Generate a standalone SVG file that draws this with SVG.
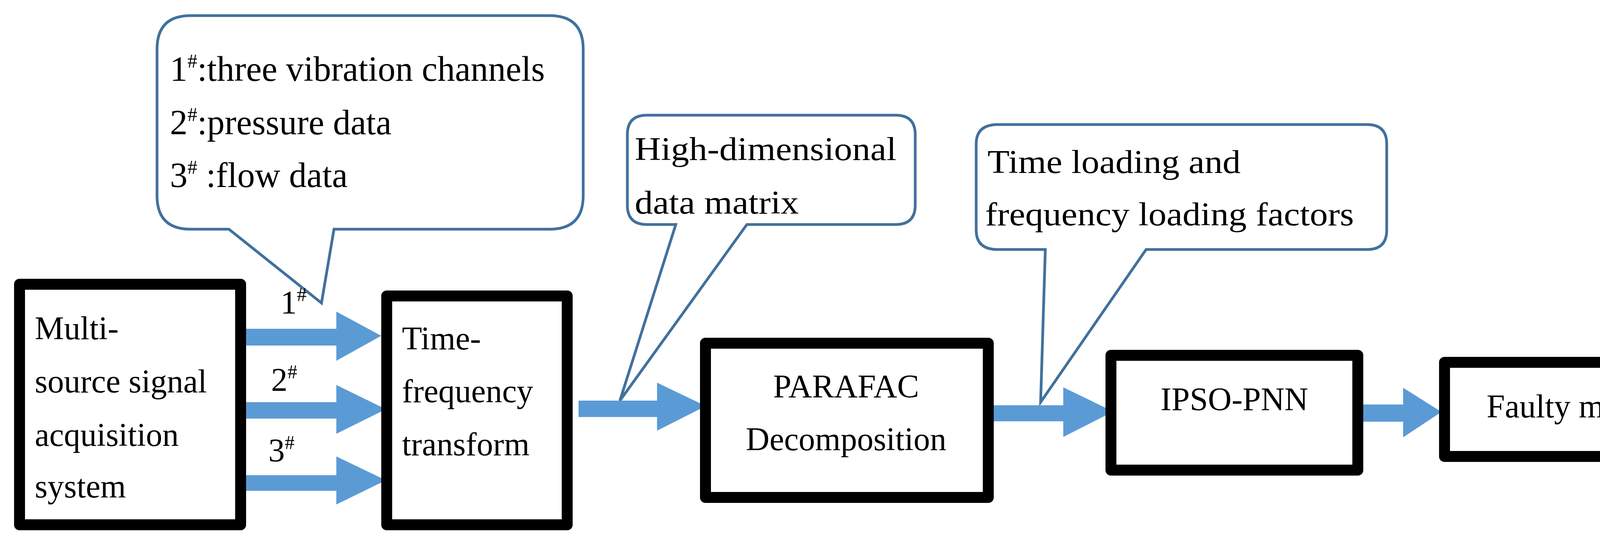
<svg xmlns="http://www.w3.org/2000/svg" width="4361" height="1383" viewBox="0 0 4361 1383">
<style>
.box{fill:#fff;stroke:#000;stroke-width:28;stroke-linejoin:round}
.call{fill:#fff;stroke:#41719C;stroke-width:7;stroke-linejoin:miter}
.arr{fill:#5B9BD5}
text{font-family:"Liberation Serif","Times New Roman",serif;font-size:84px;fill:#000}
.c1{font-size:90px}
.sup{font-size:50px}
</style>
<rect width="4361" height="1383" fill="#fff"/>
<g id="callout1"><path class="call" d="M488,40 H1407 Q1493,40 1493,126 V501 Q1493,587 1407,587 H855 L823,776 L586,587 H488 Q402,587 402,501 V126 Q402,40 488,40 Z"/>
<text class="c1" x="435" y="207">1<tspan class="sup" dy="-34">#</tspan><tspan dy="34">:three vibration channels</tspan></text>
<text class="c1" x="435" y="344">2<tspan class="sup" dy="-34">#</tspan><tspan dy="34">:pressure data</tspan></text>
<text class="c1" x="435" y="479">3<tspan class="sup" dy="-34">#</tspan><tspan dy="34"> :flow data</tspan></text></g>
<g id="callout2"><path class="call" d="M1656,295 H2293 Q2343,295 2343,345 V525 Q2343,575 2293,575 H1912 L1587,1026 L1730,575 H1656 Q1606,575 1606,525 V345 Q1606,295 1656,295 Z"/>
<text x="1625" y="410" textLength="670" lengthAdjust="spacingAndGlyphs">High-dimensional</text><text x="1625" y="547" textLength="420" lengthAdjust="spacingAndGlyphs">data matrix</text></g>
<g id="callout3"><path class="call" d="M2554,319 H3500 Q3550,319 3550,369 V589 Q3550,639 3500,639 H2934 L2664,1030 L2676,639 H2554 Q2499,639 2499,589 V369 Q2499,319 2554,319 Z"/>
<text x="2528" y="443" textLength="648" lengthAdjust="spacingAndGlyphs">Time loading and</text><text x="2522" y="577" textLength="944" lengthAdjust="spacingAndGlyphs">frequency loading factors</text></g>
<g id="connectors">
<path class="arr" d="M620,842 H861 V798 L976,860 L861,924 V885 H620 Z"/>
<path class="arr" d="M605,1030 H861 V986 L988,1048 L861,1111 V1072 H605 Z"/>
<path class="arr" d="M605,1217 H861 V1169 L988,1230 L861,1292 V1257 H605 Z"/>
<path class="arr" d="M1481,1026 H1682 V980 L1807,1040 L1682,1103 V1068 H1481 Z"/>
<path class="arr" d="M2542,1038 H2722 V992 L2850,1054 L2722,1119 V1079 H2542 Z"/>
<path class="arr" d="M3482,1036 H3592 V993 L3690,1055 L3592,1120 V1080 H3482 Z"/>
<text x="718" y="803">1<tspan class="sup" dy="-32">#</tspan></text>
<text x="694" y="1001">2<tspan class="sup" dy="-32">#</tspan></text>
<text x="687" y="1182">3<tspan class="sup" dy="-32">#</tspan></text>
</g>
<g id="box1"><rect class="box" x="50" y="728" width="566" height="616"/>
<text x="89" y="869">Multi-</text><text x="89" y="1005">source signal</text><text x="89" y="1142">acquisition</text><text x="89" y="1274">system</text></g>
<g id="box2"><rect class="box" x="990" y="758" width="462" height="586"/>
<text x="1029" y="895">Time-</text><text x="1029" y="1030">frequency</text><text x="1029" y="1166">transform</text></g>
<g id="box3"><rect class="box" x="1806" y="879" width="724" height="395"/>
<text x="2166" y="1018" text-anchor="middle">PARAFAC</text><text x="2166" y="1153" text-anchor="middle">Decomposition</text></g>
<g id="box4"><rect class="box" x="2844" y="910" width="632" height="294"/>
<text x="3160" y="1051" text-anchor="middle">IPSO-PNN</text></g>
<g id="box5"><rect class="box" x="3698" y="928" width="629" height="241"/>
<text x="4017" y="1069" text-anchor="middle">Faulty mode</text></g>
</svg>
